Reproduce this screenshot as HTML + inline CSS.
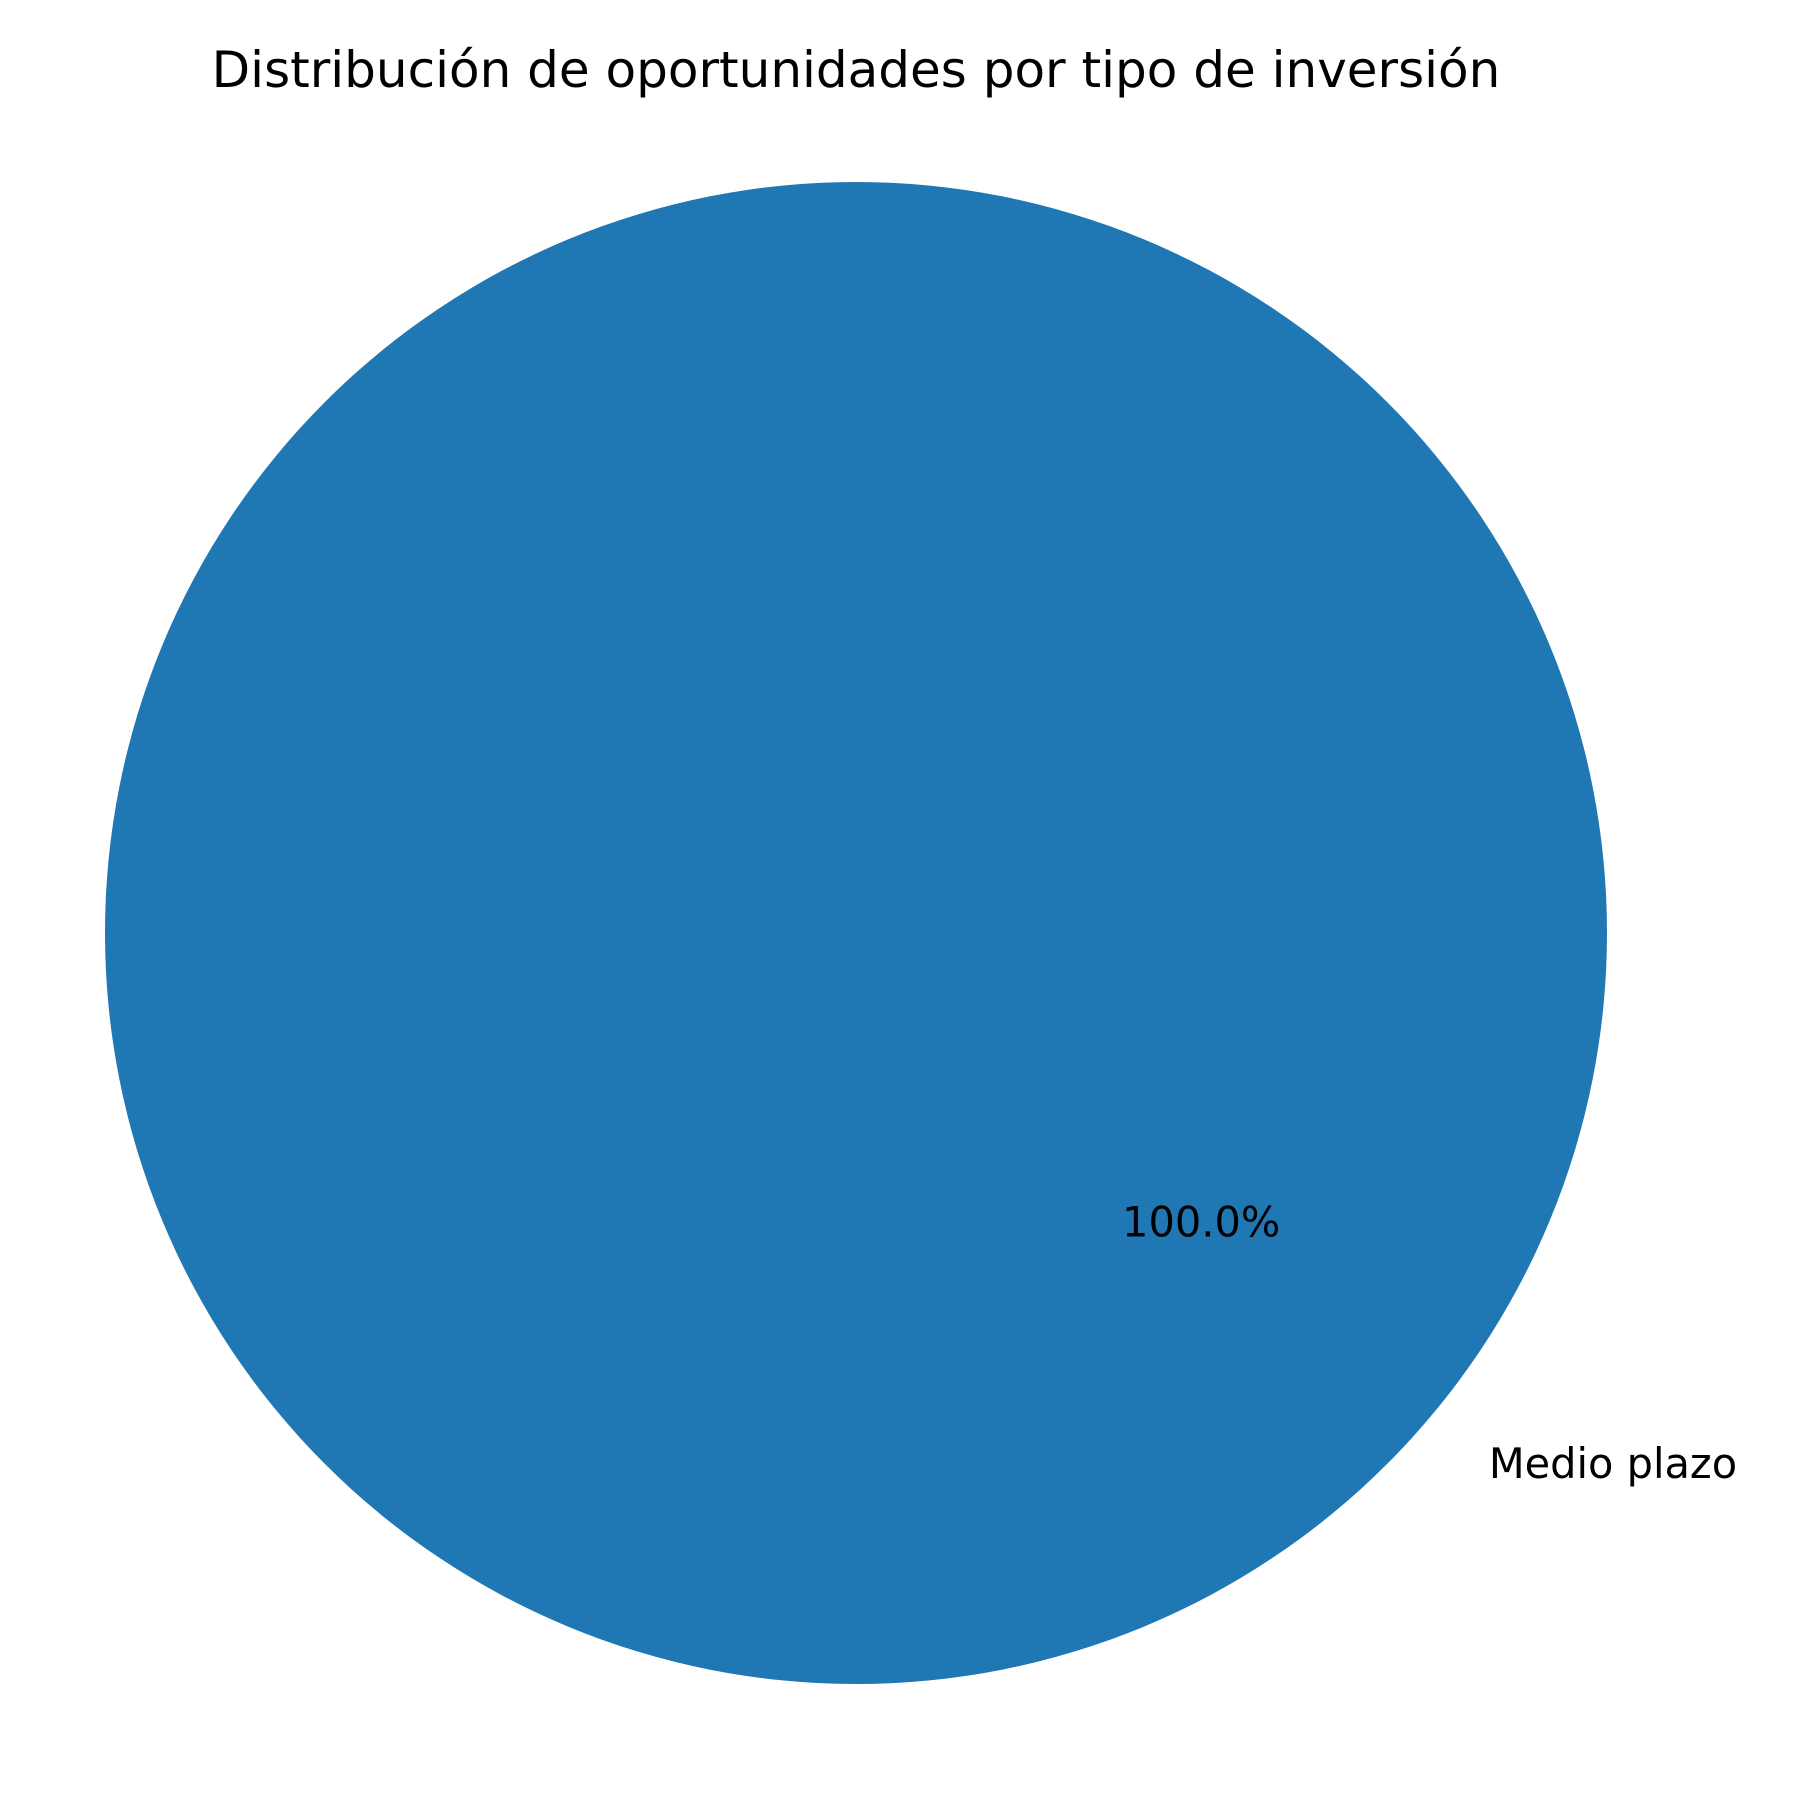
<!DOCTYPE html>
<html><head><meta charset="utf-8"><style>html,body{margin:0;padding:0;background:#fff}svg{display:block}</style></head>
<body>
<svg id="chart" width="1800" height="1800" viewBox="0 0 1800 1800" xmlns="http://www.w3.org/2000/svg" font-family="DejaVu Sans, Liberation Sans, sans-serif">
<rect width="1800" height="1800" fill="#fff"/>
<text x="856" y="87" font-size="50" text-anchor="middle" fill="#000">Distribución de oportunidades por tipo de inversión</text>
<g id="slices"></g>
</svg>
<script>
const categories = ["Medio plazo"];
const values = [100];
const colors = ["#1f77b4"];
const cx = 856, cy = 933, r = 751, startAngle = 140;
const g = document.getElementById('slices');
const ns = 'http://www.w3.org/2000/svg';
const total = values.reduce((a,b)=>a+b,0);
let a0 = startAngle;
values.forEach((v,i)=>{
  const frac = v/total, sweep = frac*360, a1 = a0+sweep;
  const rad = d=>d*Math.PI/180;
  let el;
  if (frac >= 0.9999) {
    el = document.createElementNS(ns,'circle');
    el.setAttribute('cx',cx); el.setAttribute('cy',cy); el.setAttribute('r',r);
  } else {
    el = document.createElementNS(ns,'path');
    const x0=cx+r*Math.cos(rad(a0)), y0=cy-r*Math.sin(rad(a0));
    const x1=cx+r*Math.cos(rad(a1)), y1=cy-r*Math.sin(rad(a1));
    el.setAttribute('d',`M${cx},${cy}L${x0},${y0}A${r},${r} 0 ${sweep>180?1:0} 0 ${x1},${y1}Z`);
  }
  el.setAttribute('fill',colors[i%colors.length]);
  
  
  g.appendChild(el);
  const mid = rad(a0+sweep/2), c=Math.cos(mid), s=Math.sin(mid);
  const pct = document.createElementNS(ns,'text');
  pct.setAttribute('x',cx+0.6*r*c); pct.setAttribute('y',cy-0.6*r*s+14);
  pct.setAttribute('text-anchor','middle'); pct.setAttribute('font-size','41.5');
  pct.textContent = (frac*100).toFixed(1)+'%';
  
  
  g.appendChild(pct);
  const lab = document.createElementNS(ns,'text');
  lab.setAttribute('x',cx+1.1*r*c); lab.setAttribute('y',cy-1.1*r*s+14);
  lab.setAttribute('text-anchor', c>=0?'start':'end'); lab.setAttribute('font-size','41.5');
  lab.textContent = categories[i];
  
  
  g.appendChild(lab);
  a0 = a1;
});
</script>
</body></html>
